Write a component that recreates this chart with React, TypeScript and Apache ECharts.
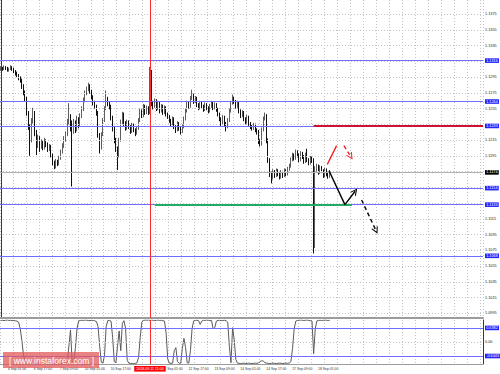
import { useEffect, useRef } from "react";
import * as echarts from "echarts";

// ---------- data (H1 candles) ----------
const firstOpen = 1.1305;
const closes = [
  1.1306, 1.1305, 1.1307, 1.1306, 1.1304, 1.1305, 1.1307, 1.1306, 1.1303, 1.13,
  1.1298, 1.1294, 1.1292, 1.1284, 1.1276, 1.1268, 1.125, 1.1232, 1.1215, 1.124,
  1.125, 1.1225, 1.121, 1.1218, 1.1208, 1.1212, 1.1206, 1.1214, 1.121, 1.1204,
  1.1207, 1.1196, 1.1186, 1.1181, 1.1188, 1.1185, 1.1192, 1.12, 1.1208, 1.1216,
  1.1222, 1.1238, 1.1246, 1.123, 1.1226, 1.1238, 1.1228, 1.1242, 1.1234, 1.1246,
  1.1255, 1.1266, 1.1275, 1.128, 1.1284, 1.1277, 1.127, 1.1262, 1.1258, 1.125,
  1.1222, 1.1205, 1.1222, 1.124, 1.1255, 1.1268, 1.1262, 1.1258, 1.1244, 1.123,
  1.1215, 1.1205, 1.1195, 1.1215, 1.1238, 1.1248, 1.1236, 1.123, 1.1238, 1.1232,
  1.1226, 1.1234, 1.1228, 1.1224, 1.123, 1.124, 1.1252, 1.1246, 1.1258, 1.125,
  1.1256, 1.125, 1.1302, 1.1262, 1.1258, 1.1265, 1.1255, 1.1262, 1.1252, 1.1258,
  1.125, 1.1256, 1.1248, 1.1245, 1.124, 1.1236, 1.1242, 1.1232, 1.1228, 1.1236,
  1.123, 1.1226, 1.1232, 1.1242, 1.1252, 1.1262, 1.1258, 1.1268, 1.1272, 1.1264,
  1.1268, 1.126, 1.1256, 1.1262, 1.1258, 1.1254, 1.126, 1.1256, 1.1252, 1.1258,
  1.1262, 1.1256, 1.126, 1.1254, 1.1248, 1.1242, 1.1236, 1.1244, 1.1236, 1.1232,
  1.124, 1.1252, 1.1262, 1.1268, 1.1264, 1.1258, 1.1262, 1.1252, 1.1246, 1.125,
  1.1242, 1.1238, 1.1244, 1.1236, 1.1232, 1.123, 1.1234, 1.1228, 1.1226, 1.1214,
  1.121, 1.1228, 1.1242, 1.1246, 1.1215, 1.119, 1.1172, 1.1168, 1.1175, 1.117,
  1.1176, 1.1172, 1.1168, 1.1174, 1.117, 1.1176, 1.1172, 1.1178, 1.1182, 1.119,
  1.1196, 1.1192, 1.12, 1.1196, 1.119, 1.1198, 1.1194, 1.1188, 1.1196, 1.119,
  1.1186, 1.1192, 1.1189, 1.1082, 1.1178, 1.1182, 1.1174, 1.118, 1.1176, 1.117,
  1.1177, 1.1172, 1.1169, 1.1174,
];
const highs = [
  1.1309, 1.1308, 1.131, 1.1309, 1.1308, 1.1307, 1.131, 1.1309, 1.1307, 1.1304,
  1.1302, 1.1299, 1.1296, 1.1293, 1.1286, 1.1278, 1.127, 1.1252, 1.1235, 1.1243,
  1.1256, 1.1252, 1.1228, 1.1222, 1.122, 1.1216, 1.1214, 1.1218, 1.1216, 1.1212,
  1.121, 1.1209, 1.1198, 1.1189, 1.1191, 1.119, 1.1195, 1.1203, 1.1211, 1.122,
  1.1226, 1.1242, 1.1262, 1.1248, 1.124, 1.1242, 1.124, 1.1246, 1.1244, 1.1249,
  1.1258, 1.1269, 1.1278, 1.1283, 1.1288, 1.1286, 1.1279, 1.1272, 1.1265, 1.126,
  1.1252, 1.1224, 1.1225, 1.1243, 1.1258, 1.1278, 1.127, 1.1264, 1.126, 1.1246,
  1.1232, 1.1218, 1.1207, 1.1218, 1.1241, 1.1251, 1.125, 1.1239, 1.1241, 1.124,
  1.1234, 1.1237, 1.1236, 1.123, 1.1233, 1.1243, 1.1255, 1.1254, 1.1261, 1.126,
  1.1259, 1.1258, 1.1308, 1.1304, 1.1265, 1.1268, 1.1267, 1.1265, 1.1264, 1.1261,
  1.126, 1.1259, 1.1258, 1.125, 1.1247, 1.1242, 1.1245, 1.1244, 1.1234, 1.1239,
  1.1238, 1.1232, 1.1235, 1.1245, 1.1255, 1.1265, 1.1264, 1.1271, 1.1279, 1.1274,
  1.1271, 1.127, 1.1262, 1.1265, 1.1264, 1.126, 1.1263, 1.1262, 1.1258, 1.1261,
  1.1265, 1.1264, 1.1263, 1.1262, 1.1256, 1.125, 1.1244, 1.1247, 1.1246, 1.1238,
  1.1243, 1.1255, 1.1265, 1.1273, 1.127, 1.1266, 1.1265, 1.1264, 1.1254, 1.1253,
  1.1252, 1.1244, 1.1247, 1.1246, 1.1238, 1.1234, 1.1237, 1.1236, 1.123, 1.1228,
  1.1216, 1.1231, 1.1245, 1.125, 1.1248, 1.1217, 1.1192, 1.1175, 1.1178, 1.1177,
  1.1179, 1.1178, 1.1174, 1.1177, 1.1176, 1.1179, 1.1178, 1.1181, 1.1185, 1.1193,
  1.1199, 1.1198, 1.1203, 1.1202, 1.1198, 1.1201, 1.12, 1.1196, 1.1199, 1.1204,
  1.1192, 1.1195, 1.1194, 1.1192, 1.1182, 1.1185, 1.1184, 1.1183, 1.1182, 1.1178,
  1.118, 1.1179, 1.1174, 1.1177,
];
const lows = [
  1.1303, 1.1303, 1.1304, 1.1304, 1.1302, 1.1302, 1.1304, 1.1303, 1.13, 1.1297,
  1.1295, 1.1291, 1.1288, 1.128, 1.1272, 1.1264, 1.1246, 1.1228, 1.1195, 1.1212,
  1.1236, 1.122, 1.1196, 1.1205, 1.12, 1.1204, 1.1202, 1.1203, 1.1206, 1.12,
  1.1201, 1.1193, 1.1183, 1.1178, 1.1179, 1.1182, 1.1183, 1.119, 1.1198, 1.1205,
  1.1213, 1.122, 1.1235, 1.1226, 1.1156, 1.1223, 1.1224, 1.1226, 1.123, 1.1232,
  1.1243, 1.1252, 1.1263, 1.1272, 1.1277, 1.1274, 1.1267, 1.1259, 1.1255, 1.1246,
  1.1218, 1.1198, 1.1203, 1.122, 1.1238, 1.1253, 1.1258, 1.1254, 1.124, 1.1226,
  1.1211, 1.12, 1.1177, 1.1193, 1.1213, 1.1235, 1.1233, 1.1227, 1.1228, 1.1229,
  1.1223, 1.1224, 1.1225, 1.122, 1.1222, 1.1228, 1.1238, 1.1243, 1.1244, 1.1247,
  1.1248, 1.1247, 1.1248, 1.1258, 1.1254, 1.1256, 1.1252, 1.1253, 1.1249, 1.125,
  1.1247, 1.1248, 1.1245, 1.1242, 1.1237, 1.1233, 1.1234, 1.1229, 1.1224, 1.1226,
  1.1227, 1.1222, 1.1224, 1.123, 1.124, 1.125, 1.1255, 1.1256, 1.1266, 1.1261,
  1.1262, 1.1257, 1.1253, 1.1254, 1.1255, 1.1251, 1.1252, 1.1253, 1.1249, 1.125,
  1.1256, 1.1253, 1.1254, 1.1251, 1.1245, 1.1239, 1.1233, 1.1234, 1.1233, 1.1226,
  1.123, 1.1238, 1.125, 1.126, 1.1261, 1.1255, 1.1256, 1.1249, 1.1243, 1.1244,
  1.1239, 1.1235, 1.1236, 1.1233, 1.1229, 1.1227, 1.1228, 1.1225, 1.1222, 1.121,
  1.1207, 1.1208, 1.1226, 1.124, 1.1211, 1.1186, 1.1168, 1.116, 1.1165, 1.1167,
  1.1168, 1.1169, 1.1165, 1.1166, 1.1167, 1.1168, 1.1169, 1.117, 1.1176, 1.118,
  1.1188, 1.1189, 1.119, 1.1193, 1.1187, 1.1188, 1.1191, 1.1185, 1.1186, 1.1187,
  1.1183, 1.1184, 1.1186, 1.1071, 1.1078, 1.1175, 1.1171, 1.1172, 1.1173, 1.1167,
  1.1168, 1.1169, 1.1166, 1.1167,
];
const oscillator = [
  0.98, 0.99, 0.97, 0.99, 1.0, 0.98, 0.99, 0.97, 0.98, 0.96, 0.95, 0.9,
  0.6, 0.05, -0.6, -0.92,
  -0.98, -0.99, -1.0, -0.97, -0.99, -0.98, -1.0, -0.99, -0.97, -0.98, -0.99, -1.0, -0.98,
  -0.99, -0.97, -0.99, -1.0, -0.98, -0.99, -0.98, -0.97, -0.99, -0.98, -0.96, -0.97,
  -0.97, -0.2, 0.55, -0.9, -0.95, -0.3, 0.6, 0.95, 0.98,
  0.99, 0.98, 1.0, 0.99, 0.98, 0.97, 0.99, 0.98, 0.96, 0.93, 0.7,
  -0.2, -0.93, -0.97, -0.6, 0.7, 0.97, 0.98, 0.95, 0.2, -0.9, -0.95, -0.2, 0.5, -0.4, 0.85, 0.97, 0.6, -0.85,
  -0.97, -0.99, -0.98, -1.0, -0.98, -0.96, -0.7,
  0.2, 0.9,
  0.98, 1.0, 0.99, 1.0, 0.98, 1.0, 0.99, 0.97, 0.99, 1.0, 0.98, 0.99, 0.97, 0.95,
  0.4, -0.8, -0.97, -0.98, -0.97, -0.4, -0.26, -0.9, -0.98, -0.97, -0.3, 0.16, -0.26, -0.95, -0.97, -0.4, 0.6, 0.96,
  0.98, 0.99, 0.97, 0.8, 0.95, 0.99, 0.98, 1.0, 0.99, 0.97, 0.98,
  0.6, 0.65, 0.95,
  0.98, 0.99, 0.97, 0.98, 0.99, 0.97, 0.9,
  -0.2, -0.95, 0.65, 0.1, -0.8,
  -0.97, -0.98, -0.99, -0.98, -0.97, -0.99, -0.98, -0.97, -0.98, -0.99, -0.98, -0.97, -0.98,
  -0.96, -0.9, -0.86, -0.88, -0.95, -0.97, -0.98, -0.99, -0.98, -0.97, -0.98, -0.99, -0.98,
  -0.97, -0.98, -0.99, -0.98, -0.97, -0.98, -0.96, -0.9,
  -0.3, 0.6, 0.95,
  0.98, 0.99, 1.0, 0.99, 0.98, 0.99, 1.0, 0.98, 0.97, 0.95,
  -0.54, 0.6, 0.96,
  0.98, 0.99, 0.98, 0.99, 1.0, 0.99, 0.98, 0.99,
];
const timeLabels = [
  "6 Sep 01:00", "6 Sep 17:00", "7 Sep 09:00", "10 Sep 01:00", "10 Sep 17:00",
  "11 Sep 09:00", "12 Sep 01:00", "12 Sep 17:00", "13 Sep 09:00", "14 Sep 01:00",
  "14 Sep 17:00", "17 Sep 09:00", "18 Sep 01:00",
];
const firstLabelSlot = 10;
const labelStep = 16;
const gridStep = 8;
const totalSlots = 298;
const priceTicks = [
  1.1375, 1.1355, 1.1335, 1.1315, 1.1295, 1.1275, 1.1255, 1.1235, 1.1215, 1.1195,
  1.1175, 1.1155, 1.1135, 1.1115, 1.1095, 1.1075, 1.1055, 1.1035, 1.1015, 1.0995,
];
const priceRange = [1.0989, 1.1393];
const levelLines = [1.1316, 1.1264, 1.1233, 1.1154, 1.1133, 1.1068];
const currentPrice = 1.1174;
const oscRange = [-1.0096, 1.0006];
const oscLevels = [0.6382, -0.6443];
const cursorSlot = 92;
const cursorLabel = "2018.09.11 11:00";

// annotations: [slot, price]
const resistanceLine = [[193, 1.1233], [297.5, 1.1233]];
const supportLine = [[95, 1.1133], [216.6, 1.1133]];
const mainPath = [[202.5, 1.1176], [212.3, 1.1133], [218.6, 1.115]];
const altPath = [[222.6, 1.1139], [231.5, 1.11]];
const redSolid = [[201.4, 1.1184], [207.2, 1.1208]];
const redDashed = [[211.7, 1.1208], [215.9, 1.1194]];

// ---------- option ----------
const FONT = "Liberation Sans";
const chevron = "path://M0,10 L5,0 L10,10 L8.4,10 L5,3.2 L1.6,10 Z";
const gridColor = "#c4c4c4";

function segment(a: number[], b: number[], color: string, width: number, dashed: boolean, arrow: boolean) {
  const lineStyle = { color, width, type: dashed ? [4, 3] : "solid", opacity: 1 };
  return [
    { coord: a, symbol: "none", lineStyle },
    { coord: b, symbol: arrow ? chevron : "none", symbolSize: 7, lineStyle, itemStyle: { color } },
  ];
}

function axisTag(value: number, text: string, bg: string | null, lineStyle: any) {
  return {
    yAxis: value,
    lineStyle,
    label: {
      show: true,
      position: "end",
      distance: 2,
      formatter: text,
      fontSize: 3.8,
      fontFamily: FONT,
      color: bg ? "#ffffff" : "#222222",
      backgroundColor: bg || "transparent",
      padding: bg ? [0.3, 1.2] : 0,
    },
  };
}

function buildOption() {
  const slots = Array.from({ length: totalSlots }, (_, i) => String(i));
  const candles = closes.map((c, i) => [i === 0 ? firstOpen : closes[i - 1], c, lows[i], highs[i]]);
  const taken = [...levelLines, currentPrice];
  const dotted = { color: gridColor, type: [1, 2], width: 1 };

  const priceMarks: any[] = priceTicks.map((v) => {
    const tag = axisTag(v, v.toFixed(4), null, dotted);
    if (taken.some((l) => Math.abs(l - v) < 0.0005)) tag.label.show = false;
    return tag;
  });
  levelLines.forEach((v) => priceMarks.push(axisTag(v, v.toFixed(4), "#2323ff", { color: "#6f6fff", width: 1, type: "solid" })));
  priceMarks.push(axisTag(currentPrice, currentPrice.toFixed(4), "#000000", { color: "#b0b0b0", width: 1, type: "solid" }));
  priceMarks.push({ xAxis: cursorSlot, lineStyle: { color: "#ff2a2a", width: 1, type: "solid" }, label: { show: false } });

  const oscMarks: any[] = [
    axisTag(0, "0.00", null, dotted),
    axisTag(oscRange[1], oscRange[1].toFixed(4), null, { opacity: 0 }),
    axisTag(oscRange[0], oscRange[0].toFixed(4), null, { opacity: 0 }),
    ...oscLevels.map((v) => axisTag(v, v.toFixed(4), "#2323ff", { color: "#6f6fff", width: 1, type: "solid" })),
    {
      xAxis: String(cursorSlot),
      lineStyle: { color: "#ff2a2a", width: 1, type: "solid" },
      label: {
        show: true,
        position: "start",
        distance: 2,
        formatter: cursorLabel,
        fontSize: 3.6,
        fontFamily: FONT,
        color: "#ffffff",
        backgroundColor: "#ff0000",
        padding: [0.8, 2],
      },
    },
  ];

  const annotations = [
    segment(resistanceLine[0], resistanceLine[1], "#cc1133", 2, false, false),
    segment(supportLine[0], supportLine[1], "#22aa66", 2, false, false),
    segment(mainPath[0], mainPath[1], "#000000", 1.4, false, false),
    segment(mainPath[1], mainPath[2], "#000000", 1.4, false, true),
    segment(altPath[0], altPath[1], "#000000", 1.4, true, true),
    segment(redSolid[0], redSolid[1], "#ee2222", 1.4, false, false),
    segment(redDashed[0], redDashed[1], "#ee2222", 1.4, true, true),
  ];

  const vSplit = {
    show: true,
    interval: (i: number) => i % gridStep === 0,
    lineStyle: dotted,
  };

  return {
    animation: false,
    backgroundColor: "#ffffff",
    textStyle: { fontFamily: FONT },
    grid: [
      { left: 0, right: 17, top: 0, height: 318 },
      { left: 0, right: 17, top: 320, height: 44 },
    ],
    xAxis: [
      {
        type: "category",
        gridIndex: 0,
        data: slots,
        boundaryGap: true,
        axisLine: { show: true, onZero: false, lineStyle: { color: "#9c9c9c", width: 2 } },
        axisTick: { show: false },
        axisLabel: { show: false },
        splitLine: vSplit,
      },
      {
        type: "category",
        gridIndex: 1,
        data: slots,
        boundaryGap: true,
        axisLine: { show: true, onZero: false, lineStyle: { color: "#9c9c9c", width: 1 } },
        axisTick: { show: false },
        axisLabel: {
          show: true,
          interval: (i: number) =>
            i >= firstLabelSlot &&
            (i - firstLabelSlot) % labelStep === 0 &&
            (i - firstLabelSlot) / labelStep < timeLabels.length &&
            Math.abs(i - cursorSlot) > 6,
          formatter: (_v: string, i: number) => timeLabels[(i - firstLabelSlot) / labelStep] || "",
          fontSize: 3.4,
          fontFamily: FONT,
          color: "#333333",
          margin: 3,
        },
        splitLine: vSplit,
      },
      { type: "value", gridIndex: 0, min: -0.5, max: totalSlots - 0.5, show: false },
    ],
    yAxis: [
      {
        type: "value",
        gridIndex: 0,
        min: priceRange[0],
        max: priceRange[1],
        position: "right",
        axisLine: { show: true, lineStyle: { color: "#3a3a3a", width: 1 } },
        axisTick: { show: false },
        axisLabel: { show: false },
        splitLine: { show: false },
      },
      {
        type: "value",
        gridIndex: 1,
        min: oscRange[0],
        max: oscRange[1],
        position: "right",
        axisLine: { show: true, lineStyle: { color: "#3a3a3a", width: 1 } },
        axisTick: { show: false },
        axisLabel: { show: false },
        splitLine: { show: false },
      },
    ],
    series: [
      {
        type: "line",
        xAxisIndex: 2,
        yAxisIndex: 0,
        data: [],
        z: 1,
        markLine: { silent: true, animation: false, precision: 6, symbol: ["none", "none"], data: priceMarks },
      },
      {
        type: "candlestick",
        xAxisIndex: 0,
        yAxisIndex: 0,
        data: candles,
        barWidth: 0.7,
        z: 2,
        itemStyle: {
          color: "#5e5e5e",
          color0: "#101010",
          borderColor: "#5e5e5e",
          borderColor0: "#101010",
          borderWidth: 1,
        },
      },
      {
        type: "line",
        xAxisIndex: 2,
        yAxisIndex: 0,
        data: [],
        z: 3,
        markLine: { silent: true, animation: false, precision: 6, symbol: ["none", "none"], label: { show: false }, data: annotations },
      },
      {
        type: "line",
        xAxisIndex: 1,
        yAxisIndex: 1,
        data: oscillator,
        showSymbol: false,
        lineStyle: { color: "#5a5a5a", width: 1 },
        markLine: { silent: true, animation: false, precision: 6, symbol: ["none", "none"], data: oscMarks },
      },
    ],
    graphic: [
      {
        type: "rect",
        x: 3,
        y: 352,
        shape: { x: 0, y: 0, width: 96, height: 16 },
        style: { fill: "rgba(226,88,88,0.75)" },
        z: 100,
      },
      {
        type: "text",
        x: 9,
        y: 360.5,
        style: {
          text: "[ www.instaforex.com ]",
          fill: "#ffffff",
          fontSize: 8.5,
          fontFamily: FONT,
          verticalAlign: "middle",
        },
        z: 101,
      },
    ],
  };
}

export default function App() {
  const ref = useRef<HTMLDivElement>(null);
  useEffect(() => {
    if (!ref.current) return;
    const chart = echarts.init(ref.current, null, { renderer: "svg" });
    chart.setOption(buildOption() as any);
    return () => chart.dispose();
  }, []);
  return (
    <div
      ref={ref}
      style={{ position: "fixed", left: 0, top: 0, width: 500, height: 374, background: "#ffffff" }}
    />
  );
}
